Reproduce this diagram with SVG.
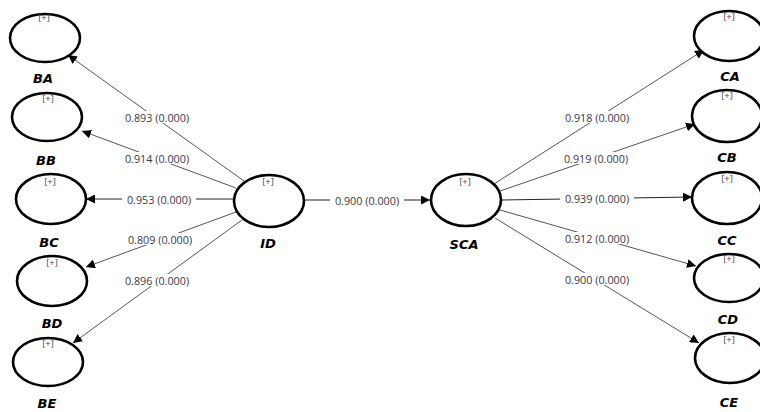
<svg xmlns="http://www.w3.org/2000/svg" width="760" height="412" viewBox="0 0 760 412">
  <style>
    .node { fill: #ffffff; stroke: #000000; stroke-width: 2.6; }
    .name { font-family: "DejaVu Sans", "Liberation Sans", sans-serif; font-size: 13px; font-weight: bold; font-style: italic; fill: #000000; text-anchor: middle; }
    .plus { font-family: "Open Sans", "Liberation Sans", sans-serif; font-size: 9.5px; fill: #3a4a6a; text-anchor: middle; }
    .plus .p { fill: #8a2a2a; }
    .edge { stroke: #555555; stroke-width: 1; fill: none; marker-end: url(#arrow); }
    .lbl { font-family: "Open Sans", "Liberation Sans", sans-serif; font-size: 10.8px; fill: #3a3a48; text-anchor: middle; dominant-baseline: central; }
    .bg { fill: #ffffff; }
  </style>
  <defs>
    <marker id="arrow" viewBox="0 0 10 10" refX="10" refY="5" markerWidth="9" markerHeight="9" markerUnits="userSpaceOnUse" orient="auto">
      <path d="M0,0 L10,5 L0,10 z" fill="#000000"/>
    </marker>
  </defs>
  <rect width="760" height="412" fill="#ffffff"/>

  <!-- connectors -->
  <g id="connectors">
    <line class="edge" x1="244" y1="181" x2="68" y2="55"/>
    <line class="edge" x1="236" y1="188" x2="82" y2="131"/>
    <line class="edge" x1="233" y1="199" x2="86" y2="199" style="stroke:#222"/>
    <line class="edge" x1="236" y1="212" x2="86" y2="267"/>
    <line class="edge" x1="242" y1="220" x2="73" y2="343"/>
    <line class="edge" x1="304" y1="200" x2="430" y2="200" style="stroke:#222"/>
    <line class="edge" x1="494" y1="184" x2="704" y2="50"/>
    <line class="edge" x1="500" y1="191" x2="695" y2="124"/>
    <line class="edge" x1="502" y1="200" x2="692" y2="197" style="stroke:#222"/>
    <line class="edge" x1="500" y1="210" x2="696" y2="266"/>
    <line class="edge" x1="495" y1="218" x2="699" y2="343"/>

    <!-- path coefficients -->
    <rect class="bg" x="120" y="111" width="74" height="12"/>
    <text class="lbl" x="157" y="117">0.893 (0.000)</text>
    <rect class="bg" x="120" y="152" width="74" height="12"/>
    <text class="lbl" x="157" y="158">0.914 (0.000)</text>
    <rect class="bg" x="122" y="193" width="74" height="12"/>
    <text class="lbl" x="159" y="199">0.953 (0.000)</text>
    <rect class="bg" x="123" y="233" width="74" height="12"/>
    <text class="lbl" x="160" y="239">0.809 (0.000)</text>
    <rect class="bg" x="120" y="274" width="74" height="12"/>
    <text class="lbl" x="157" y="280">0.896 (0.000)</text>
    <rect class="bg" x="330" y="194" width="74" height="12"/>
    <text class="lbl" x="367" y="200">0.900 (0.000)</text>
    <rect class="bg" x="560" y="111" width="74" height="12"/>
    <text class="lbl" x="597" y="117">0.918 (0.000)</text>
    <rect class="bg" x="559" y="152" width="74" height="12"/>
    <text class="lbl" x="596" y="158">0.919 (0.000)</text>
    <rect class="bg" x="560" y="192" width="74" height="12"/>
    <text class="lbl" x="597" y="198">0.939 (0.000)</text>
    <rect class="bg" x="560" y="232" width="74" height="12"/>
    <text class="lbl" x="597" y="238">0.912 (0.000)</text>
    <rect class="bg" x="560" y="273" width="74" height="12"/>
    <text class="lbl" x="597" y="279">0.900 (0.000)</text>
  </g>

  <!-- constructs -->
  <g id="BA">
    <ellipse class="node" cx="45" cy="38" rx="35" ry="24"/>
    <text class="plus" x="44" y="21">[<tspan class="p">+</tspan>]</text>
    <text class="name" x="43" y="83">BA</text>
  </g>
  <g id="BB">
    <ellipse class="node" cx="47" cy="117" rx="35" ry="24"/>
    <text class="plus" x="48" y="102">[<tspan class="p">+</tspan>]</text>
    <text class="name" x="46" y="165">BB</text>
  </g>
  <g id="BC">
    <ellipse class="node" cx="51" cy="199" rx="35" ry="25"/>
    <text class="plus" x="50" y="185">[<tspan class="p">+</tspan>]</text>
    <text class="name" x="49" y="247">BC</text>
  </g>
  <g id="BD">
    <ellipse class="node" cx="52" cy="281" rx="35" ry="25"/>
    <text class="plus" x="52" y="266">[<tspan class="p">+</tspan>]</text>
    <text class="name" x="52" y="328">BD</text>
  </g>
  <g id="BE">
    <ellipse class="node" cx="48" cy="362" rx="35" ry="24"/>
    <text class="plus" x="48" y="347">[<tspan class="p">+</tspan>]</text>
    <text class="name" x="47" y="408">BE</text>
  </g>
  <g id="ID">
    <ellipse class="node" cx="269" cy="201" rx="35" ry="26"/>
    <text class="plus" x="268" y="185">[<tspan class="p">+</tspan>]</text>
    <text class="name" x="268" y="248">ID</text>
  </g>
  <g id="SCA">
    <ellipse class="node" cx="466" cy="200" rx="35" ry="26"/>
    <text class="plus" x="465" y="185">[<tspan class="p">+</tspan>]</text>
    <text class="name" x="464" y="249">SCA</text>
  </g>
  <g id="CA">
    <ellipse class="node" cx="729" cy="36" rx="35" ry="25"/>
    <text class="plus" x="729" y="20">[<tspan class="p">+</tspan>]</text>
    <text class="name" x="730" y="81">CA</text>
  </g>
  <g id="CB">
    <ellipse class="node" cx="727" cy="116" rx="35" ry="26"/>
    <text class="plus" x="727" y="99">[<tspan class="p">+</tspan>]</text>
    <text class="name" x="727" y="162">CB</text>
  </g>
  <g id="CC">
    <ellipse class="node" cx="727" cy="198" rx="35" ry="26"/>
    <text class="plus" x="727" y="182">[<tspan class="p">+</tspan>]</text>
    <text class="name" x="727" y="245">CC</text>
  </g>
  <g id="CD">
    <ellipse class="node" cx="729" cy="278" rx="35" ry="24"/>
    <text class="plus" x="729" y="262">[<tspan class="p">+</tspan>]</text>
    <text class="name" x="728" y="324">CD</text>
  </g>
  <g id="CE">
    <ellipse class="node" cx="730" cy="358" rx="35" ry="25"/>
    <text class="plus" x="729" y="343">[<tspan class="p">+</tspan>]</text>
    <text class="name" x="729" y="407">CE</text>
  </g>
</svg>
